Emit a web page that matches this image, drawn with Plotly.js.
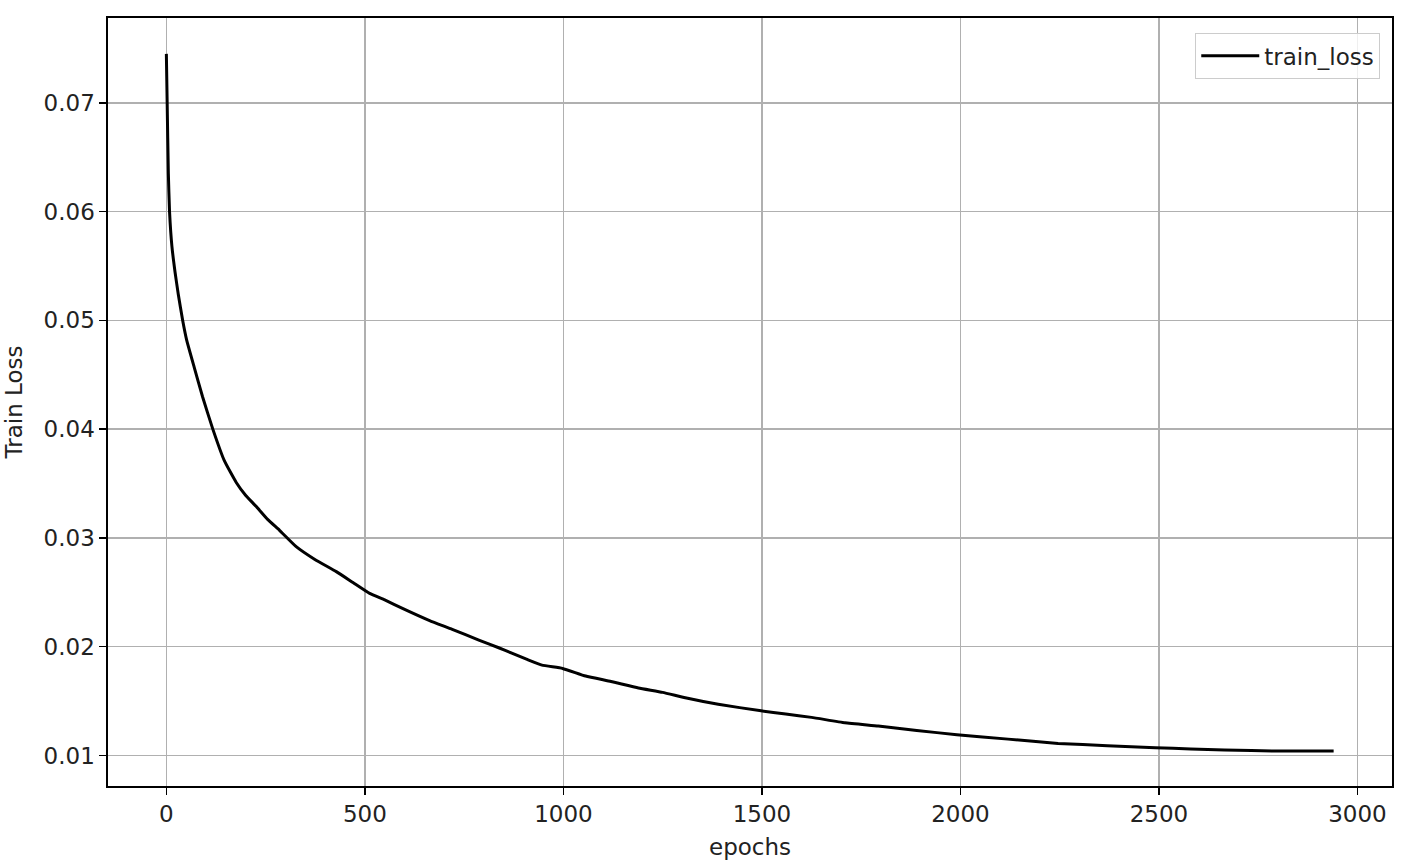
<!DOCTYPE html>
<html>
<head>
<meta charset="utf-8">
<script src="https://cdn.plot.ly/plotly-3.0.1.min.js"></script>
<style>html,body{margin:0;padding:0;background:#fff;}#chart{width:1412px;height:860px;}</style>
</head>
<body>
<div id="chart"></div>
<script>
const epochs = [0, 2, 5, 8, 14, 22, 30, 41, 51, 70, 91, 117, 146, 176, 200, 226, 255, 285, 327, 375, 428, 470, 512, 550, 596, 663, 720, 787, 837, 870, 910, 946, 998, 1056, 1120, 1189, 1250, 1307, 1390, 1498, 1560, 1625, 1709, 1793, 1890, 1991, 2120, 2246, 2370, 2491, 2580, 2665, 2800, 2940];
const trainLoss = [0.0745, 0.0700, 0.0635, 0.0600, 0.0568, 0.0544, 0.0524, 0.0500, 0.0482, 0.0457, 0.0430, 0.0400, 0.0371, 0.0351, 0.0339, 0.0329, 0.0317, 0.0307, 0.0292, 0.0280, 0.0269, 0.0259, 0.0249, 0.0243, 0.0235, 0.0224, 0.0216, 0.0206, 0.0199, 0.0194, 0.0188, 0.0183, 0.0180, 0.0173, 0.0168, 0.0162, 0.0158, 0.0153, 0.0147, 0.0141, 0.0138, 0.0135, 0.0130, 0.0127, 0.0123, 0.0119, 0.0115, 0.0111, 0.0109, 0.0107, 0.0106, 0.0105, 0.0104, 0.0104];
const seriesName = 'train_loss';
const xLabel = 'epochs';
const yLabel = 'Train Loss';

const font = {family: 'DejaVu Sans, sans-serif', size: 23, color: '#222'};

const trace = {
  x: epochs, y: trainLoss, type: 'scatter', mode: 'lines', name: seriesName,
  line: {color: '#000000', width: 3, shape: 'spline', smoothing: 0.4}
};

const axisCommon = {
  showline: true, linecolor: '#000', linewidth: 1.6, mirror: true,
  ticks: 'outside', ticklen: 7, tickwidth: 1.6, tickcolor: '#000',
  showgrid: true, gridcolor: '#b0b0b0', gridwidth: 1.6,
  zeroline: false, tickfont: font
};

const layout = {
  width: 1412, height: 860,
  margin: {l: 108, r: 20, t: 18, b: 74},
  paper_bgcolor: '#fff', plot_bgcolor: '#fff',
  font: font,
  showlegend: true,
  legend: {
    x: 0.9907, y: 0.9805, xanchor: 'right', yanchor: 'top',
    bgcolor: 'rgba(255,255,255,0.8)', bordercolor: '#cccccc', borderwidth: 1.2,
    itemwidth: 58,
    font: font
  },
  xaxis: Object.assign({}, axisCommon, {
    range: [-147, 3087], dtick: 500, tick0: 0,
    title: {text: xLabel, font: font, standoff: 12}
  }),
  yaxis: Object.assign({}, axisCommon, {
    range: [0.00719, 0.0778], dtick: 0.01, tick0: 0, tickformat: '.2f',
    title: {text: yLabel, font: font, standoff: 14}
  })
};

Plotly.newPlot('chart', [trace], layout, {displayModeBar: false, staticPlot: true});
</script>
</body>
</html>
